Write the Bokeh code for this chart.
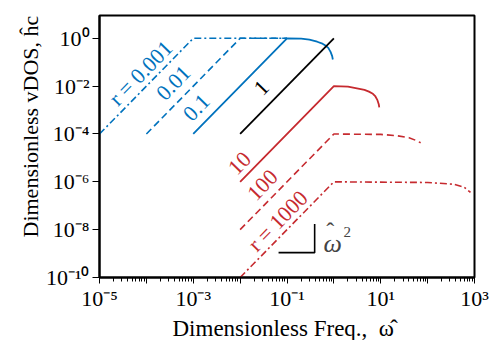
import math
from bokeh.plotting import figure
from bokeh.models import FixedTicker, Label, Title
from bokeh.embed import file_html
from bokeh.resources import INLINE

# ---- data ----
b001_x = [1e-5, 1e-3, 1e-1]
b001_y = [1e-4, 1.0, 1.0]
b01_x = [1e-4, 1e-2, 1e-1]
b01_y = [1e-4, 1.0, 1.0]
b1_x = [1e-3, 0.1, 0.2, 0.3, 0.44, 0.55, 0.66, 0.76, 0.85, 0.92, 0.95]
b1_y = [1e-4, 1.0, 0.97, 0.88, 0.72, 0.62, 0.5, 0.4, 0.27, 0.18, 0.13]
k1_x = [1e-2, 1.0]
k1_y = [1e-4, 1.0]
r10_x = [1e-2, 1.0, 2.0, 3.1, 4.5, 5.6, 6.8, 7.7, 8.5, 9.1, 9.3]
r10_y = [1e-6, 1e-2, 9.5e-3, 8.1e-3, 7e-3, 5.9e-3, 4.8e-3, 3.7e-3, 2.6e-3, 1.7e-3, 1.3e-3]
r100_x = [1e-2, 1.0, 10, 22, 40, 55, 71]
r100_y = [1e-8, 1e-4, 9.6e-5, 8.5e-5, 7e-5, 5.5e-5, 4.3e-5]
r1000_x = [1e-2, 1.0, 100, 363, 600, 822]
r1000_y = [1e-10, 1e-6, 9.4e-7, 7.9e-7, 6e-7, 3.6e-7]
slope_x = [10 ** -1.18, 10 ** -0.41, 10 ** -0.41]
slope_y = [10 ** -8.96, 10 ** -8.96, 10 ** -7.76]

x_major = [10.0 ** e for e in range(-5, 4)]
x_minor = [k * 10.0 ** e for e in range(-5, 3) for k in range(2, 10)]
y_major = [10.0 ** e for e in range(-10, 1, 2)]

SUP = str.maketrans("0123456789-", "⁰¹²³⁴⁵⁶⁷⁸⁹⁻")
def lab(e):
    return "10" + str(e).translate(SUP)

BLUE = "#0072BD"
RED = "#C62A2F"
FONT = "Liberation Serif"

p = figure(width=490, height=340, x_axis_type="log", y_axis_type="log",
           x_range=(1e-5, 1e3), y_range=(1e-10, 9.0),
           output_backend="svg", toolbar_location=None,
           min_border_left=99, min_border_right=16, min_border_top=15, min_border_bottom=61)
p.xgrid.visible = False
p.ygrid.visible = False
p.outline_line_color = "black"
p.outline_line_width = 2
p.outline_line_alpha = 1.0
p.background_fill_color = "white"
p.border_fill_color = "white"

xa = p.xaxis[0]
xa.ticker = FixedTicker(ticks=x_major, minor_ticks=x_minor)
xa.major_label_overrides = {t: (lab(e) if e % 2 else "") for t, e in zip(x_major, range(-5, 4))}
ya = p.yaxis[0]
ya.ticker = FixedTicker(ticks=y_major, minor_ticks=[])
ya.major_label_overrides = {t: lab(e) for t, e in zip(y_major, range(-10, 1, 2))}
for ax in (xa, ya):
    ax.axis_line_color = "black"
    ax.axis_line_width = 2
    ax.major_tick_line_color = "black"
    ax.minor_tick_line_color = "black"
    ax.major_tick_in = 0
    ax.minor_tick_in = 0
    ax.major_label_text_font = FONT
    ax.major_label_text_font_size = "22px"
    ax.major_label_text_color = "black"
xa.major_tick_out = 6
xa.minor_tick_out = 4
xa.major_label_standoff = 2
ya.major_tick_out = 7
ya.major_label_standoff = 3

# axis titles as side-panel titles
p.add_layout(Title(text="Dimensionless Freq.,\u00a0\u00a0\u03c9\u0302", align="left", offset=73, standoff=0,
                   text_font=FONT, text_font_size="23px", text_font_style="normal",
                   text_color="black"), "below")
p.add_layout(Title(text="Dimensionless vDOS, ĥc", align="left", offset=40, standoff=0,
                   text_font=FONT, text_font_size="22px", text_font_style="normal",
                   text_color="black"), "left")

# curves
p.line(b001_x, b001_y, line_color=BLUE, line_width=1.6, line_dash="7 3 2 3")
p.line(b01_x, b01_y, line_color=BLUE, line_width=1.6, line_dash="7 4")
p.line(b1_x, b1_y, line_color=BLUE, line_width=1.8)
p.line(k1_x, k1_y, line_color="black", line_width=1.8)
p.line(r10_x, r10_y, line_color=RED, line_width=1.8)
p.line(r100_x, r100_y, line_color=RED, line_width=1.6, line_dash="7 4")
p.line(r1000_x, r1000_y, line_color=RED, line_width=1.6, line_dash="7 3 2 3")
p.line(slope_x, slope_y, line_color="black", line_width=1.6)

ang = math.atan(2 * 24.1 / 46.875)
curve_labels = [
    ("r = 0.001", -4.125, -1.45, BLUE),
    ("0.01", -3.42, -1.87, BLUE),
    ("0.1", -2.93, -2.9, BLUE),
    ("1", -1.544, -2.07, "black"),
    ("10", -2.01, -5.23, RED),
    ("100", -1.52, -6.14, RED),
    ("r = 1000", -1.20, -7.63, RED),
]
for t, lx, ly, c in curve_labels:
    p.add_layout(Label(x=10 ** lx, y=10 ** ly, text=t, angle=ang, text_color=c,
                       text_font=FONT, text_font_size="22px",
                       text_align="center", text_baseline="middle"))

# omega-hat squared annotation
p.add_layout(Label(x=10 ** -0.221, y=10 ** -8.59, text="ω", text_font=FONT,
                   text_font_style="italic", text_font_size="26px",
                   text_align="left", text_baseline="alphabetic"))
p.add_layout(Label(x=10 ** -0.08, y=10 ** -8.05, text="ˆ", text_font=FONT,
                   text_font_size="24px", text_align="center", text_baseline="alphabetic"))
p.add_layout(Label(x=10 ** 0.205, y=10 ** -8.1, text="2", text_font=FONT,
                   text_font_size="15px", text_align="left", text_baseline="alphabetic"))

open("out.html", "w").write(file_html(p, INLINE))
